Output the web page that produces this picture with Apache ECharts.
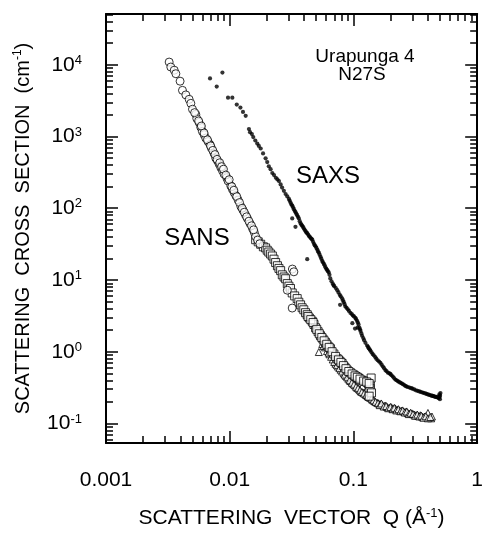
<!DOCTYPE html>
<html><head><meta charset="utf-8">
<script src="https://cdn.jsdelivr.net/npm/echarts@6/dist/echarts.min.js"></script>
<style>html,body{margin:0;padding:0;background:#fff}#c{width:486px;height:535px}</style>
</head><body><div id="c"></div>
<script>
// ---- data: [Q (1/Å), cross section (1/cm)] ----
const sansCircles = [
  [0.00324,10900],[0.00334,9300],[0.00356,8400],[0.00367,7500],[0.00397,5900],[0.00415,4400],
  [0.00442,3800],[0.00470,3300],[0.00485,2900],[0.00500,2400],[0.00532,2040],[0.00542,1780],
  [0.00565,1570],[0.00583,1350],[0.00601,1180],[0.00621,1060],[0.00640,950],[0.00668,850],
  [0.00693,770],[0.00711,690],[0.00747,580],[0.00771,500],[0.00796,460],[0.00820,415],
  [0.00846,370],[0.00873,335],[0.00900,300],[0.00946,266],[0.00969,240],[0.0102,205],
  [0.0105,185],[0.01084,166],[0.0112,150],[0.0117,130],[0.0123,106],[0.0128,94],[0.0134,81],
  [0.0139,72],[0.0146,61],[0.0153,52],[0.0158,46],[0.0162,40.4],[0.0168,36],[0.0175,32],
  [0.0052,2150],[0.0056,1650],[0.0059,1400],[0.0062,1120],[0.0066,900],[0.0070,740],[0.0073,640],
  [0.0076,560],[0.0079,480],[0.0083,430],[0.0086,380],[0.0089,350],[0.0093,290],[0.0099,250],
  [0.0104,200],[0.0108,178],[0.0114,145],[0.0120,120],[0.0126,100],[0.0131,88],[0.0137,76],
  [0.0143,66],[0.0150,57],[0.0156,50],
  [0.0292,7.2],[0.0320,4.06],[0.0321,14.2],[0.0330,13.0]
];
const sansSquares = [
  [0.0162,36.4],[0.0170,34],[0.0178,31.5],[0.0187,29],[0.0195,28],[0.0201,26],[0.0207,24.5],
  [0.0214,23],[0.0221,21.6],[0.0228,19.5],[0.0235,17.5],[0.0243,15.8],[0.0250,14.5],[0.0258,13.5],
  [0.0266,11.8],[0.0275,11],[0.0283,10.4],[0.0292,8.9],[0.0301,8.2],[0.0310,7.6],[0.0320,6.6],
  [0.0335,6.0],[0.0351,5.5],[0.0362,4.9],[0.0374,4.5],[0.0385,4.1],[0.0397,3.84],[0.0410,3.5],
  [0.0423,3.28],[0.0440,2.95],[0.0464,2.66],[0.0480,2.4],[0.0494,2.16],[0.0518,1.9],[0.0542,1.67],
  [0.0567,1.5],[0.0594,1.35],[0.0622,1.2],[0.0653,1.10],[0.0695,0.93],[0.0739,0.80],[0.0775,0.74],
  [0.0810,0.686],[0.0850,0.61],[0.0889,0.556],[0.0945,0.51],[0.1005,0.475],[0.105,0.45],[0.110,0.428],
  [0.117,0.40],[0.125,0.386],[0.131,0.37],[0.137,0.348],[0.139,0.43],[0.136,0.31],[0.140,0.267],[0.134,0.24],
  [0.0430,3.1],[0.0452,2.8],[0.0472,2.55],[0.0505,2.05],[0.0530,1.78],[0.0555,1.58],[0.058,1.42],
  [0.0608,1.27],[0.0637,1.15],[0.0672,1.0],[0.0717,0.86],[0.0757,0.77],[0.0792,0.71],[0.083,0.64],
  [0.087,0.58],[0.0917,0.53],[0.0975,0.49],[0.103,0.46],[0.1075,0.44],[0.113,0.415],[0.121,0.39],
  [0.128,0.378],[0.134,0.36]
];
const sansTriangles = [
  [0.0525,0.99],[0.0560,1.28],[0.0590,1.15],[0.0612,1.02],[0.0640,0.92],[0.0680,0.78],[0.0716,0.68],
  [0.0750,0.62],[0.0790,0.56],[0.0835,0.50],[0.0870,0.46],[0.0910,0.42],[0.0946,0.39],[0.0990,0.36],
  [0.103,0.34],[0.107,0.315],[0.111,0.30],[0.115,0.28],[0.120,0.268],[0.125,0.255],[0.129,0.245],
  [0.133,0.235],[0.137,0.228],[0.142,0.215],[0.148,0.205],[0.155,0.195],[0.160,0.19],[0.165,0.185],
  [0.172,0.18],[0.180,0.178],[0.187,0.17],[0.195,0.165],[0.203,0.168],[0.210,0.16],[0.218,0.162],
  [0.226,0.155],[0.235,0.152],[0.245,0.15],[0.255,0.147],[0.265,0.145],[0.275,0.14],[0.286,0.137],
  [0.297,0.138],[0.31,0.133],[0.32,0.13],[0.335,0.127],[0.347,0.13],[0.36,0.124],[0.375,0.125],
  [0.393,0.122],[0.41,0.12],[0.425,0.118],[0.431,0.125],[0.40,0.14],[0.100,0.42],[0.118,0.33],[0.128,0.30],
  [0.0575,1.2],[0.063,0.97],[0.066,0.85],[0.070,0.72],[0.0735,0.65],[0.077,0.59],[0.081,0.53],
  [0.085,0.48],[0.089,0.44],[0.093,0.40],[0.097,0.37],[0.101,0.35],[0.105,0.325],[0.109,0.31],
  [0.113,0.29],[0.117,0.275],[0.122,0.262],[0.127,0.25],[0.131,0.24],[0.135,0.232],[0.14,0.222],
  [0.145,0.21],[0.151,0.2],[0.158,0.192],[0.163,0.18],[0.168,0.19],[0.176,0.172],[0.184,0.175],
  [0.191,0.163],[0.199,0.17],[0.207,0.158],[0.214,0.165],[0.222,0.152],[0.231,0.158],[0.24,0.148],
  [0.25,0.152],[0.26,0.142],[0.27,0.147],[0.28,0.135],[0.29,0.141],[0.303,0.135],[0.315,0.128],
  [0.328,0.133],[0.341,0.125],[0.354,0.128],[0.368,0.12],[0.384,0.126],[0.40,0.118],[0.418,0.123]
];
const saxsDots = [
  [0.00693,6440],[0.00785,4970],[0.00873,7780],[0.00969,3480],[0.0105,3480],[0.0114,2790],[0.0122,2530],
  [0.0128,2200],[0.01346,1940],[0.0143,1270],[0.0146,1150],[0.0151,1080],[0.0155,982],[0.0161,880],
  [0.0167,796],[0.0172,740],[0.0178,680],[0.0186,580],[0.0195,496],[0.0201,440],[0.0207,384],[0.0214,350],
  [0.0221,310],[0.0228,290],[0.0236,266],[0.0243,252],[0.0250,239],[0.0258,215],[0.0265,194],[0.0274,175],
  [0.0283,158],[0.0292,146],[0.0301,135],[0.0310,120],[0.0320,109],[0.0330,97],[0.0340,88.5],[0.0351,80],
  [0.0362,72],[0.0374,61.5],[0.0385,57],[0.0397,52.5],[0.0410,48],[0.0423,44.9],[0.0437,41],[0.0451,38.5],
  [0.0465,36.4],[0.0480,32],[0.0494,29.5],[0.0510,26.5],[0.0525,24],[0.0542,21],[0.0559,18.5],[0.0576,16.8],
  [0.0594,15],[0.0612,13.8],[0.0631,12.8],[0.0650,10.5],[0.0680,8.87],[0.0700,8.2],[0.0740,7.2],[0.0775,6.2],
  [0.0810,5.55],[0.0835,4.9],[0.0861,4.27],[0.0900,3.9],[0.0946,3.47],[0.0990,3.2],[0.1037,2.96],[0.107,2.7],
  [0.110,2.4],[0.1117,2.16],[0.114,1.95],[0.1175,1.67],[0.122,1.45],[0.129,1.22],[0.133,1.12],[0.137,1.04],
  [0.143,0.93],[0.150,0.843],[0.157,0.76],[0.165,0.70],[0.173,0.62],[0.181,0.556],[0.190,0.51],[0.199,0.49],
  [0.208,0.45],[0.218,0.41],[0.228,0.39],[0.239,0.37],[0.250,0.355],[0.262,0.335],[0.275,0.322],[0.293,0.31],
  [0.31,0.298],[0.33,0.285],[0.35,0.275],[0.369,0.267],[0.39,0.258],[0.41,0.25],[0.43,0.244],[0.444,0.24],
  [0.46,0.235],[0.475,0.232],[0.49,0.226],[0.50,0.218],[0.50,0.245],[0.505,0.265],[0.495,0.255],
  [0.032,72],[0.034,55],[0.0423,19.5],[0.078,4.5],[0.108,2.16],[0.103,2.1],[0.098,2.5],
  [0.0305,128],[0.0315,113],[0.0325,103],[0.0335,92],[0.0345,84],[0.0356,76],[0.0368,66],[0.0380,59],
  [0.0391,55],[0.0403,50],[0.0416,46],[0.0430,43],[0.0444,40],[0.0458,37.5],[0.0472,34],[0.0487,30.5],
  [0.0502,28],[0.0517,25],[0.0533,22.5],[0.0550,19.8],[0.0567,17.6],[0.0585,16],[0.0603,14.3],[0.0621,13.3],
  [0.0640,11.8],[0.0665,9.6],[0.069,8.5],[0.072,7.7],[0.0757,6.7],[0.079,5.9],[0.0822,5.2],[0.0848,4.6],
  [0.088,4.1],[0.092,3.7],[0.097,3.35],[0.101,3.1],[0.105,2.85],[0.1085,2.55],[0.113,2.05],[0.116,1.8],
  [0.12,1.55],[0.125,1.33],[0.131,1.17],[0.135,1.08],[0.140,0.98],[0.146,0.89],[0.153,0.80],[0.161,0.73],
  [0.169,0.66],[0.177,0.59],[0.185,0.535],[0.195,0.50],[0.203,0.47],[0.213,0.43],[0.223,0.40],[0.233,0.38],
  [0.245,0.362],[0.256,0.345],[0.268,0.328],[0.284,0.316],[0.30,0.305],[0.32,0.29],[0.34,0.28],[0.36,0.27],
  [0.38,0.262],[0.40,0.254],[0.42,0.247],[0.437,0.242],[0.452,0.237],[0.468,0.234],[0.483,0.229],[0.498,0.236]
];
// ---- axes / ticks ----
const xMajorTicks = [0.001, 0.01, 0.1, 1];
const xTickLabels = ['0.001', '0.01', '0.1', '1'];
const yMajorTicks = [0.1, 1, 10, 100, 1000, 10000];
const yTickExponents = ['-1', '0', '1', '2', '3', '4'];
const minorMultipliers = [2, 3, 4, 5, 6, 7, 8, 9];
const X_MIN = 0.001, X_MAX = 1, Y_MIN = 0.0534, Y_MAX = 51000;

function minorTicks(decades, lo, hi) {
  const out = [];
  decades.forEach(d => minorMultipliers.forEach(m => { const v = +(d * m).toPrecision(6); if (v > lo && v < hi) out.push(v); }));
  return out;
}
const xMinor = minorTicks([0.001, 0.01, 0.1], X_MIN, X_MAX);
const yMinor = minorTicks([0.01, 0.1, 1, 10, 100, 1000, 10000], Y_MIN, Y_MAX);

function idxOf(arr, v) {
  let best = -1, bd = 1e9;
  arr.forEach((t, i) => { const d = Math.abs(Math.log10(t) - Math.log10(v)); if (d < bd) { bd = d; best = i; } });
  return bd < 1e-4 ? best : -1;
}
const FONT = 'Liberation Sans';
const BLACK = '#000';

function axisBase(type, pos, min, max, major, minor, withLine) {
  return {
    type: 'log', position: pos, min: min, max: max, logBase: 10,
    axisLine: { show: withLine, onZero: false, lineStyle: { color: BLACK, width: 2 } },
    axisTick: { show: true, inside: true, length: major ? 12 : 7,
      customValues: major ? (type === 'x' ? xMajorTicks : yMajorTicks) : (type === 'x' ? xMinor : yMinor),
      lineStyle: { color: BLACK, width: 1.5 } },
    axisLabel: { show: false },
    splitLine: { show: false }, minorTick: { show: false }
  };
}

const xBottom = axisBase('x', 'bottom', X_MIN, X_MAX, true, false, true);
xBottom.axisLabel = {
  show: true, customValues: xMajorTicks, margin: 27, color: BLACK, fontSize: 21, fontFamily: FONT,
  formatter: v => { const i = idxOf(xMajorTicks, v); return i >= 0 ? xTickLabels[i] : ''; }
};
xBottom.name = 'SCATTERING  VECTOR  Q (Å{s|-1})';
xBottom.nameLocation = 'middle';
xBottom.nameGap = 64;
xBottom.nameTextStyle = { color: BLACK, fontSize: 21, fontFamily: FONT, lineHeight: 23,
  rich: { s: { fontSize: 13, fontFamily: FONT, color: BLACK, verticalAlign: 'top', lineHeight: 14 } } };

const yLeft = axisBase('y', 'left', Y_MIN, Y_MAX, true, false, true);
yLeft.axisLabel = {
  show: true, customValues: yMajorTicks, margin: 24, color: BLACK, fontSize: 20, fontFamily: FONT,
  formatter: v => { const i = idxOf(yMajorTicks, v); return i >= 0 ? '{b|10}{s|' + yTickExponents[i] + '}' : ''; },
  rich: {
    b: { fontSize: 21, fontFamily: FONT, color: BLACK, lineHeight: 22 },
    s: { fontSize: 13, fontFamily: FONT, color: BLACK, verticalAlign: 'top', lineHeight: 14 }
  }
};
yLeft.name = 'SCATTERING  CROSS  SECTION  (cm{s|-1})';
yLeft.nameLocation = 'middle';
yLeft.nameGap = 72;
yLeft.nameTextStyle = { color: BLACK, fontSize: 20, fontFamily: FONT, lineHeight: 22,
  rich: { s: { fontSize: 12, fontFamily: FONT, color: BLACK, verticalAlign: 'top', lineHeight: 14 } } };

const option = {
  animation: false,
  backgroundColor: '#fff',
  grid: { left: 106, right: 6, top: 14, bottom: 82, containLabel: false },
  xAxis: [
    xBottom,
    axisBase('x', 'bottom', X_MIN, X_MAX, false, true, false),
    axisBase('x', 'top', X_MIN, X_MAX, true, false, true),
    axisBase('x', 'top', X_MIN, X_MAX, false, true, false)
  ],
  yAxis: [
    yLeft,
    axisBase('y', 'left', Y_MIN, Y_MAX, false, true, false),
    axisBase('y', 'right', Y_MIN, Y_MAX, true, false, true),
    axisBase('y', 'right', Y_MIN, Y_MAX, false, true, false)
  ],
  graphic: [
    { type: 'text', x: 365, y: 57, style: { text: 'Urapunga 4', font: '19px "Liberation Sans"', fill: BLACK, align: 'center', verticalAlign: 'middle' } },
    { type: 'text', x: 362, y: 75, style: { text: 'N27S', font: '19px "Liberation Sans"', fill: BLACK, align: 'center', verticalAlign: 'middle' } },
    { type: 'text', x: 197, y: 238, style: { text: 'SANS', font: '24px "Liberation Sans"', fill: BLACK, align: 'center', verticalAlign: 'middle' } },
    { type: 'text', x: 328, y: 176, style: { text: 'SAXS', font: '24px "Liberation Sans"', fill: BLACK, align: 'center', verticalAlign: 'middle' } }
  ],
  series: [
    { name: 'SAXS', type: 'scatter', xAxisIndex: 0, yAxisIndex: 0, data: saxsDots, symbol: 'circle', symbolSize: 4.2,
      itemStyle: { color: BLACK, borderWidth: 0 } },
    { name: 'SANS triangles', type: 'scatter', xAxisIndex: 0, yAxisIndex: 0, data: sansTriangles, symbol: 'triangle', symbolSize: 7,
      itemStyle: { color: '#fff', borderColor: BLACK, borderWidth: 1 } },
    { name: 'SANS squares', type: 'scatter', xAxisIndex: 0, yAxisIndex: 0, data: sansSquares, symbol: 'rect', symbolSize: 8,
      itemStyle: { color: '#fff', borderColor: BLACK, borderWidth: 1 } },
    { name: 'SANS circles', type: 'scatter', xAxisIndex: 0, yAxisIndex: 0, data: sansCircles, symbol: 'circle', symbolSize: 8,
      itemStyle: { color: '#fff', borderColor: BLACK, borderWidth: 1 } }
  ]
};
const chart = echarts.init(document.getElementById('c'), null, { renderer: 'canvas' });
chart.setOption(option);
</script></body></html>
